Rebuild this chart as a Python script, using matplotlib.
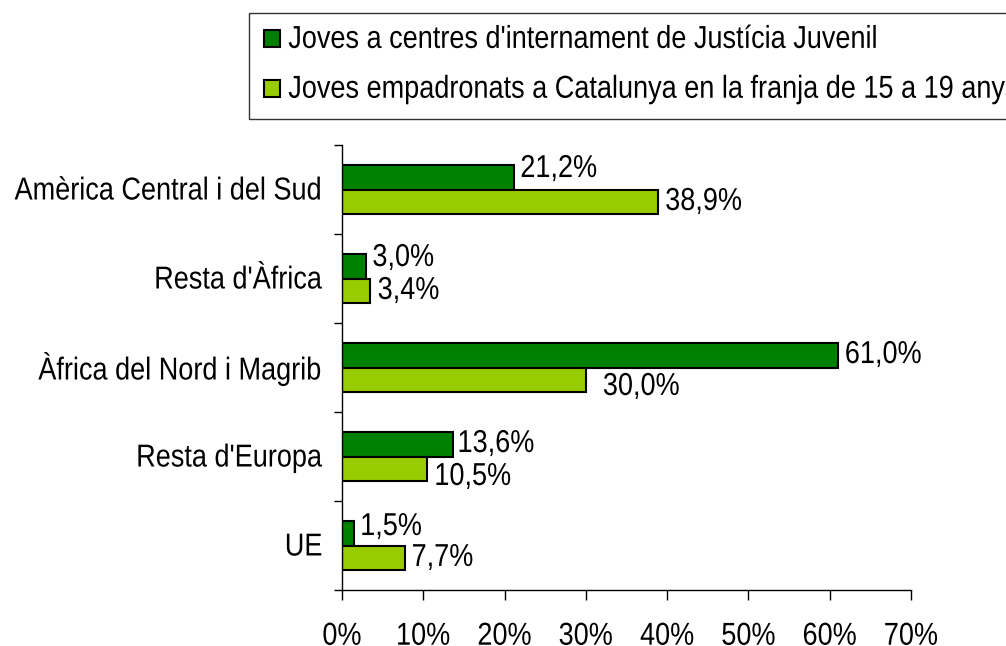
import matplotlib
matplotlib.use("Agg")
import matplotlib.pyplot as plt
from matplotlib.patheffects import AbstractPathEffect
from matplotlib.transforms import Affine2D
from matplotlib.text import Text
import numpy as np

categories = ["Amèrica Central i del Sud", "Resta d'Àfrica", "Àfrica del Nord i Magrib", "Resta d'Europa", "UE"]
series_names = ["Joves a centres d'internament de Justícia Juvenil",
                "Joves empadronats a Catalunya en la franja de 15 a 19 anys"]
justicia = [21.2, 3.0, 61.0, 13.6, 1.5]
empadronats = [38.9, 3.4, 30.0, 10.5, 7.7]
xticks = [0, 10, 20, 30, 40, 50, 60, 70]

# label offsets (pixels) relative to bar end / bar centre, as placed in the original
dark_off = [(6, 7), (6, 7), (7, -1), (5, -1), (6, 5)]
light_off = [(7, -1), (8, -1), (17, -8), (7, -9), (7, -1)]

plt.rcParams['font.family'] = ['Liberation Sans', 'DejaVu Sans']
FS = 19.5
SY = 1.17  # the original font is taller/narrower than Arial


class VStretch(AbstractPathEffect):
    def __init__(self, sy):
        super().__init__()
        self.sy = sy

    def draw_path(self, renderer, gc, tpath, affine, rgbFace=None):
        renderer.draw_path(gc, tpath, Affine2D().scale(1, self.sy) + affine, rgbFace)


fig = plt.figure(figsize=(10.06, 6.46), dpi=100)
ax = fig.add_axes([342/1006, 1-590/646, (911-342)/1006, (590-145)/646])

y = np.arange(len(categories))
h = 0.28
dark = "#008000"
light = "#99CC00"
b1 = ax.barh(y - h/2, justicia, height=h, color=dark, edgecolor="black", linewidth=1.5, label=series_names[0])
b2 = ax.barh(y + h/2, empadronats, height=h, color=light, edgecolor="black", linewidth=1.5, label=series_names[1])

px = 0.72
fmt = lambda v: f"{v:.1f}%".replace(".", ",")
for v, yy, (dx, dy) in zip(justicia, y, dark_off):
    ax.annotate(fmt(v), (v, yy - h/2), xytext=(dx*px, dy*px), textcoords="offset points",
                ha="left", va="center", fontsize=FS)
for v, yy, (dx, dy) in zip(empadronats, y, light_off):
    ax.annotate(fmt(v), (v, yy + h/2), xytext=(dx*px, dy*px), textcoords="offset points",
                ha="left", va="center", fontsize=FS)

ax.set_xlim(0, 70)
ax.set_ylim(len(categories) - 0.5, -0.5)
ax.set_xticks(xticks)
ax.set_xticklabels([f"{t}%" for t in xticks], fontsize=FS)
ax.set_yticks(np.arange(len(categories) + 1) - 0.5)
ax.set_yticklabels([])
ax.set_yticks(y, minor=True)
ax.set_yticklabels(categories, minor=True, fontsize=FS)
ax.tick_params(axis="y", which="major", length=6, width=1, color="black")
ax.tick_params(axis="y", which="minor", length=0, pad=14)
ax.tick_params(axis="x", which="major", length=7, width=1, pad=18)
for s in ["top", "right"]:
    ax.spines[s].set_visible(False)
for s in ["left", "bottom"]:
    ax.spines[s].set_color("black")
    ax.spines[s].set_linewidth(1)

leg = fig.legend(handles=[b1, b2], loc="upper left", bbox_to_anchor=(249/1006, 1-13/646),
                 fontsize=FS, frameon=True, fancybox=False, handlelength=0.6, handleheight=0.6,
                 handletextpad=0.3, borderpad=0.55, labelspacing=0.88, borderaxespad=0)
leg.get_frame().set_edgecolor("black")
leg.get_frame().set_linewidth(1)
for p in leg.get_patches():
    p.set_linewidth(1.5)

fig.canvas.draw()
for t in fig.findobj(Text):
    if t.get_text():
        t.set_path_effects([VStretch(SY)])

fig.savefig("out.png", dpi=100)
